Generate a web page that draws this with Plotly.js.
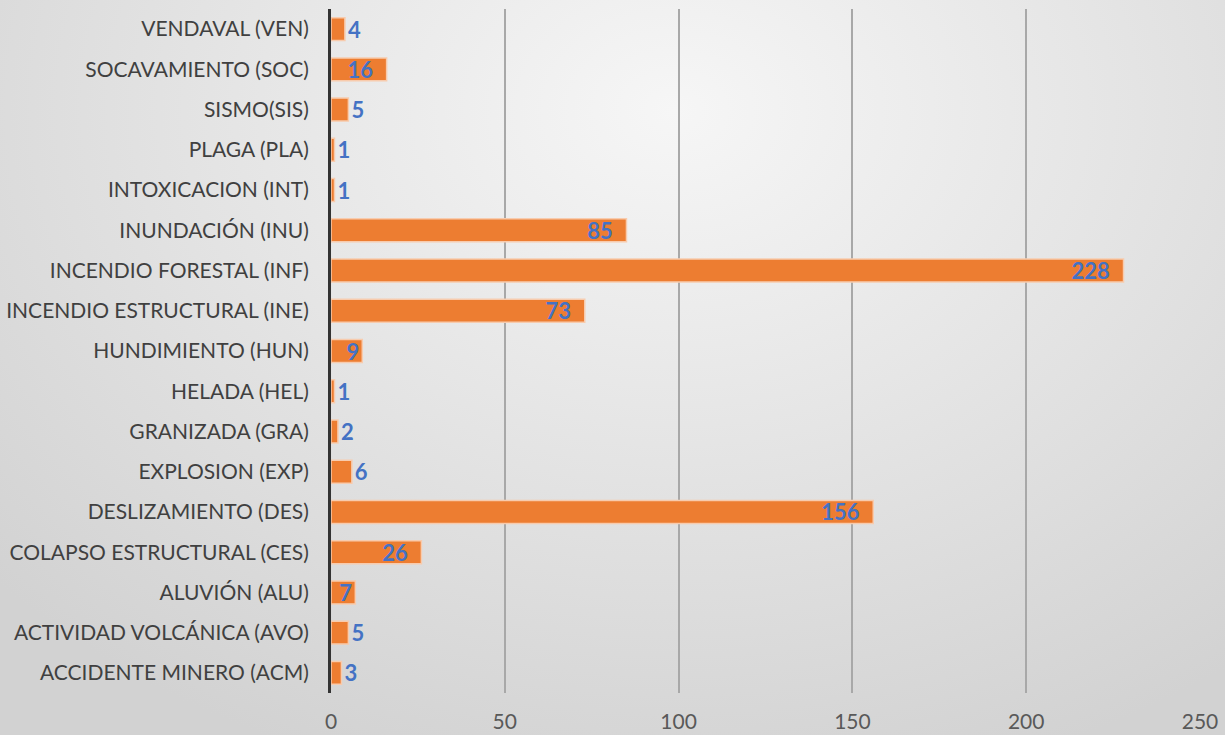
<!DOCTYPE html>
<html>
<head>
<meta charset="utf-8">
<script src="https://cdn.plot.ly/plotly-3.0.1.min.js"></script>
<style>
html,body{margin:0;padding:0;}
#chart{width:1225px;height:735px;background:radial-gradient(ellipse 75% 95% at 55% 15%, #f6f6f6 0%, #e6e6e6 45%, #d2d2d2 100%);}
</style>
</head>
<body>
<div id="chart"></div>
<script>
const categories = [
  "ACCIDENTE MINERO (ACM)",
  "ACTIVIDAD VOLCÁNICA (AVO)",
  "ALUVIÓN (ALU)",
  "COLAPSO ESTRUCTURAL (CES)",
  "DESLIZAMIENTO (DES)",
  "EXPLOSION (EXP)",
  "GRANIZADA (GRA)",
  "HELADA (HEL)",
  "HUNDIMIENTO (HUN)",
  "INCENDIO ESTRUCTURAL (INE)",
  "INCENDIO FORESTAL (INF)",
  "INUNDACIÓN (INU)",
  "INTOXICACION (INT)",
  "PLAGA (PLA)",
  "SISMO(SIS)",
  "SOCAVAMIENTO (SOC)",
  "VENDAVAL (VEN)"
];
const values = [3, 5, 7, 26, 156, 6, 2, 1, 9, 73, 228, 85, 1, 1, 5, 16, 4];
const tickValues = [0, 50, 100, 150, 200, 250];

const labelFont = {family: "Lato, 'Open Sans', sans-serif", size: 22, color: "#4472C4", weight: "bold"};

const trace = {
  type: "bar",
  orientation: "h",
  y: categories,
  x: values,
  text: values.map(v => "<b>" + v + "</b>" + (v >= 10 ? "\u00a0\u00a0" : "")),
  texttemplate: "%{text}",
  textposition: values.map(v => v >= 7 ? "inside" : "outside"),
  insidetextanchor: "end",
  textangle: 0,
  constraintext: "none",
  cliponaxis: false,
  insidetextfont: labelFont,
  outsidetextfont: labelFont,
  marker: {color: "#ED7D31", line: {color: "#F8CBAD", width: 1.5}},
  hoverinfo: "x+y"
};

const layout = {
  width: 1225,
  height: 735,
  margin: {l: 331, r: 25, t: 9, b: 42},
  paper_bgcolor: "rgba(0,0,0,0)",
  plot_bgcolor: "rgba(0,0,0,0)",
  bargap: 0.43,
  showlegend: false,
  font: {family: "Lato, 'Open Sans', sans-serif", color: "#404040"},
  xaxis: {
    range: [0, 250],
    tickvals: tickValues,
    ticktext: tickValues.map(String),
    showgrid: true,
    gridcolor: "#a8a8a8",
    gridwidth: 2,
    zeroline: false,
    showline: false,
    ticks: "",
    ticklabelstandoff: 14,
    tickfont: {size: 21, color: "#595959"},
    fixedrange: true
  },
  yaxis: {
    type: "category",
    categoryorder: "array",
    categoryarray: categories,
    showgrid: false,
    zeroline: false,
    showline: true,
    linecolor: "#333333",
    linewidth: 3,
    ticks: "",
    ticklabelstandoff: 15,
    tickfont: {size: 21, color: "#404040"},
    fixedrange: true
  }
};

Plotly.newPlot("chart", [trace], layout, {displayModeBar: false, staticPlot: true});
</script>
</body>
</html>
